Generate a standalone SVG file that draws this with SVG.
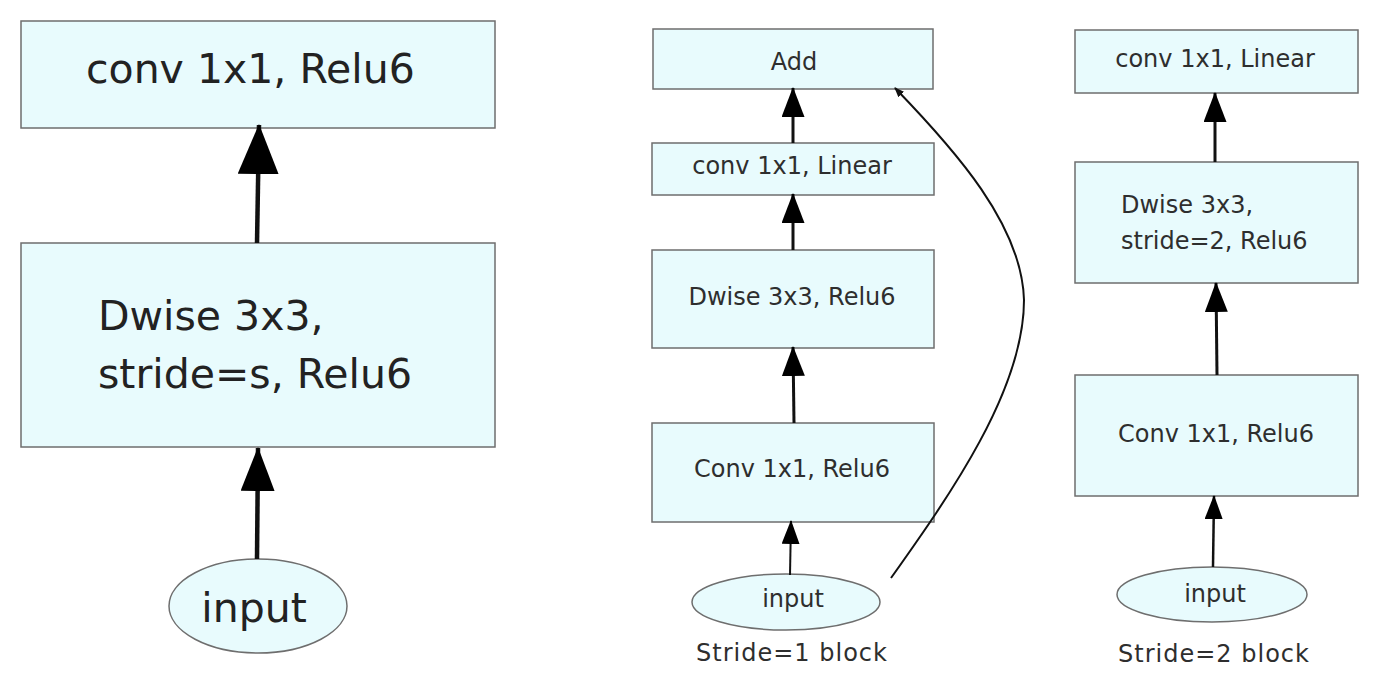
<svg xmlns="http://www.w3.org/2000/svg" width="1376" height="690" viewBox="0 0 1376 690">
<style>
.box{fill:#e8fbfd;stroke:#6e6e6e;stroke-width:1.5}
.t{font-family:"DejaVu Sans","Verdana",sans-serif;fill:#222}
.big{font-size:41px}
.sm{font-size:24px;fill:#2e2e2e}
.c{text-anchor:middle}
.ln{fill:none;stroke:#111}
</style>
<defs>
<marker id="hBig" markerUnits="userSpaceOnUse" viewBox="0 0 50 41" markerWidth="50" markerHeight="41" refX="49" refY="20.5" orient="auto"><path d="M0,0 L50,20.5 L0,41 z" fill="#000"/></marker>
<marker id="hBig2" markerUnits="userSpaceOnUse" viewBox="0 0 44 34" markerWidth="44" markerHeight="34" refX="43" refY="17" orient="auto"><path d="M0,0 L44,17 L0,34 z" fill="#000"/></marker>
<marker id="hMid" markerUnits="userSpaceOnUse" viewBox="0 0 30 23" markerWidth="30" markerHeight="23" refX="29" refY="11.5" orient="auto"><path d="M0,0 L30,11.5 L0,23 z" fill="#000"/></marker>
<marker id="hSm" markerUnits="userSpaceOnUse" viewBox="0 0 24 18" markerWidth="24" markerHeight="18" refX="23" refY="9" orient="auto"><path d="M0,0 L24,9 L0,18 z" fill="#000"/></marker>
<marker id="hTiny" markerUnits="userSpaceOnUse" viewBox="0 0 10 8" markerWidth="10" markerHeight="8" refX="9" refY="4" orient="auto"><path d="M0,0 L10,4 L0,8 z" fill="#111"/></marker>
</defs>
<rect width="1376" height="690" fill="#fff"/>

<!-- Left panel -->
<g id="l-conv">
<rect class="box" x="21" y="21" width="474" height="107"/>
<text class="t big" x="86" y="83">conv 1x1, Relu6</text>
</g>
<g id="l-dwise">
<rect class="box" x="21" y="243" width="474" height="204"/>
<text class="t big" x="98" y="330">Dwise 3x3,</text>
<text class="t big" x="98" y="388">stride=s, Relu6</text>
</g>
<g id="l-input">
<ellipse class="box" cx="258" cy="606" rx="89" ry="47"/>
<text class="t big c" x="254" y="622">input</text>
</g>

<!-- Middle panel -->
<g id="m-add">
<rect class="box" x="653" y="29" width="280" height="60"/>
<text class="t sm c" x="794" y="70">Add</text>
</g>
<g id="m-linear">
<rect class="box" x="652" y="143" width="282" height="52"/>
<text class="t sm c" x="792" y="174">conv 1x1, Linear</text>
</g>
<g id="m-dwise">
<rect class="box" x="652" y="250" width="282" height="98"/>
<text class="t sm c" x="792" y="305">Dwise 3x3, Relu6</text>
</g>
<g id="m-conv">
<rect class="box" x="652" y="423" width="282" height="99"/>
<text class="t sm c" x="792" y="477">Conv 1x1, Relu6</text>
</g>
<g id="m-input">
<ellipse class="box" cx="786" cy="602" rx="94" ry="28"/>
<text class="t sm c" x="793" y="607">input</text>
</g>
<text class="t sm c" x="792" y="661" letter-spacing="1">Stride=1 block</text>

<!-- Right panel -->
<g id="r-linear">
<rect class="box" x="1075" y="30" width="283" height="63"/>
<text class="t sm c" x="1215" y="67">conv 1x1, Linear</text>
</g>
<g id="r-dwise">
<rect class="box" x="1075" y="162" width="283" height="121"/>
<text class="t sm" x="1121" y="213">Dwise 3x3,</text>
<text class="t sm" x="1121" y="249">stride=2, Relu6</text>
</g>
<g id="r-conv">
<rect class="box" x="1075" y="375" width="283" height="121"/>
<text class="t sm c" x="1216" y="442">Conv 1x1, Relu6</text>
</g>
<g id="r-input">
<ellipse class="box" cx="1212" cy="594.5" rx="95" ry="27.5"/>
<text class="t sm c" x="1215" y="602">input</text>
</g>
<text class="t sm c" x="1214" y="662" letter-spacing="1">Stride=2 block</text>

<!-- Connectors -->
<g id="connectors">
<line class="ln" x1="257" y1="243" x2="259" y2="125" stroke-width="4.5" marker-end="url(#hBig)"/>
<line class="ln" x1="257" y1="559" x2="258" y2="448" stroke-width="4.5" marker-end="url(#hBig2)"/>

<line class="ln" x1="793" y1="143" x2="793" y2="88" stroke-width="3" marker-end="url(#hMid)"/>
<line class="ln" x1="793" y1="250" x2="793" y2="194" stroke-width="3" marker-end="url(#hMid)"/>
<line class="ln" x1="794" y1="423" x2="793" y2="347" stroke-width="3" marker-end="url(#hMid)"/>
<line class="ln" x1="790" y1="575" x2="791" y2="521" stroke-width="2" marker-end="url(#hSm)"/>
<path class="ln" d="M891,578 C950,495 1024,390 1024,300 C1022,225 955,150 895,88" stroke-width="2" marker-end="url(#hTiny)"/>

<line class="ln" x1="1215" y1="162" x2="1215" y2="93" stroke-width="3" marker-end="url(#hMid)"/>
<line class="ln" x1="1217" y1="375" x2="1216" y2="283" stroke-width="3" marker-end="url(#hMid)"/>
<line class="ln" x1="1213" y1="567" x2="1214" y2="496" stroke-width="2.5" marker-end="url(#hSm)"/>
</g>
</svg>
